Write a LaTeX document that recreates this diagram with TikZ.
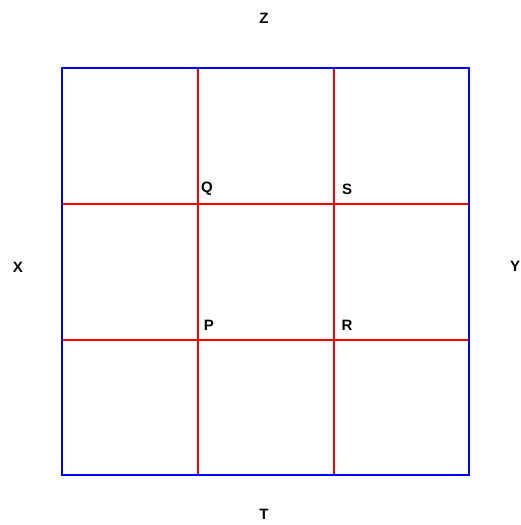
\documentclass[tikz,border=0pt]{standalone}
\usepackage{fontspec}
\setmainfont{Liberation Sans}
\begin{document}
\begin{tikzpicture}[x=1pt,y=-1pt,
  lbl/.style={font=\fontsize{15}{15}\selectfont\bfseries, text=black, inner sep=0pt},
  outer/.style={draw=blue, line width=2.5pt},
  grid/.style={draw=red, line width=2pt}]
\useasboundingbox[fill=white] (0,0) rectangle (521,525);
\coordinate (tl) at (62,68);
\coordinate (br) at (469,475);
\coordinate (v1t) at (198,68); \coordinate (v1b) at (198,475);
\coordinate (v2t) at (334,68); \coordinate (v2b) at (334,475);
\coordinate (h1l) at (62,204); \coordinate (h1r) at (469,204);
\coordinate (h2l) at (62,340); \coordinate (h2r) at (469,340);
\path[grid] (v1t) -- (v1b);
\path[grid] (v2t) -- (v2b);
\path[grid] (h1l) -- (h1r);
\path[grid] (h2l) -- (h2r);
\path[outer] (tl) rectangle (br);
\node[lbl] (Z) at (264,18) {Z};
\node[lbl] (T) at (264,514) {T};
\node[lbl] (X) at (18,267) {X};
\node[lbl] (Y) at (515,266) {Y};
\node[lbl] (Q) at (207,189) {Q};
\node[lbl] (S) at (347,189) {S};
\node[lbl] (P) at (209,325) {P};
\node[lbl] (R) at (347,325) {R};
\end{tikzpicture}
\end{document}
